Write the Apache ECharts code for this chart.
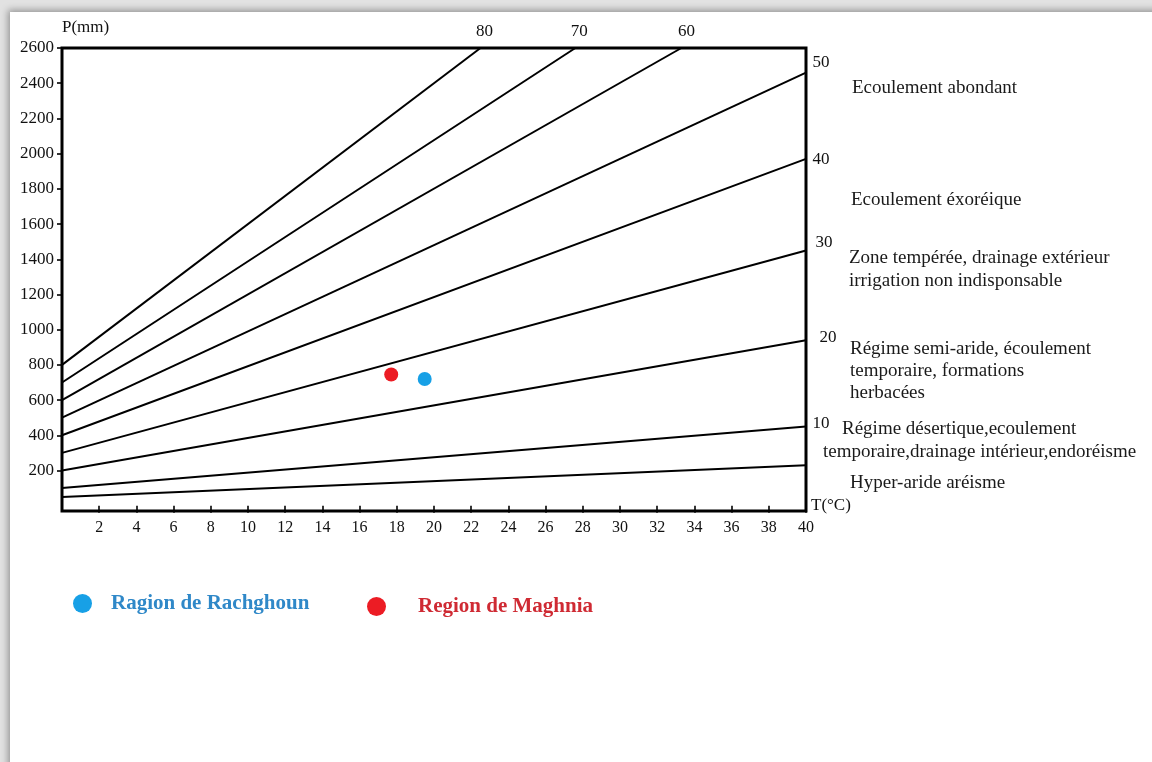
<!DOCTYPE html>
<html>
<head>
<meta charset="utf-8">
<title>Indice d'aridité de De Martonne</title>
<script src="https://cdn.jsdelivr.net/npm/echarts@6/dist/echarts.min.js"></script>
<style>
  html, body { margin: 0; padding: 0; width: 1152px; height: 762px; overflow: hidden; background: #e2e2e2; }
  #sheet { position: absolute; left: 10px; top: 12px; width: 1200px; height: 800px; background: #fff;
           box-shadow: 0 0 7px 2px rgba(0,0,0,0.35); }
  #chart { position: absolute; left: 0; top: 0; width: 1152px; height: 762px; }
</style>
</head>
<body>
<div id="sheet"></div>
<div id="chart"></div>
<script>
// Temperature axis (°C) and precipitation axis (mm)
const tempTicks = [2, 4, 6, 8, 10, 12, 14, 16, 18, 20, 22, 24, 26, 28, 30, 32, 34, 36, 38, 40];
const precipTicks = [200, 400, 600, 800, 1000, 1200, 1400, 1600, 1800, 2000, 2200, 2400, 2600];

// Iso-index lines of the aridity index I = P / (T + 10)
const indexNames = ['80', '70', '60', '50', '40', '30', '20', '10', '5'];
const lineStartP = [800, 700, 600, 500, 400, 300, 200, 100, 50];       // P at T = 0
const lineEndT   = [22.5, 27.6, 33.3, 40, 40, 40, 40, 40, 40];
const lineEndP   = [2600, 2600, 2600, 2460, 1970, 1450, 940, 450, 230];
const labelledIndex = [true, true, true, true, true, true, true, true, false];

// Stations
const stationNames = ['Ragion de Rachghoun', 'Region de Maghnia'];
const stationT = [19.5, 17.7];
const stationP = [720, 745];
const stationColors = ['#17a0e6', '#ec1c24'];
const stationTextColors = ['#2f88c8', '#cf2a33'];

// Climate zones written to the right of the chart
const zoneTexts = [
  'Ecoulement abondant',
  'Ecoulement éxoréique',
  'Zone tempérée, drainage extérieur\nirrigation non indisponsable',
  'Régime semi-aride, écoulement\ntemporaire, formations\nherbacées',
  'Régime désertique,ecoulement',
  'temporaire,drainage intérieur,endoréisme',
  'Hyper-aride aréisme'
];

const SERIF = '"Liberation Serif", "Times New Roman", serif';
const P_MIN = -30, P_MAX = 2600;

// label nudges for the index numbers: [dx, dy]
const endLabelNudge = [[4, 0], [4, 0], [5, 0], [0, -10], [0, 1], [3, -8], [7, -3], [0, -3], [0, 0]];
const zoneAnchor = [[852, 88, 22], [851, 200, 22], [849, 258, 23], [850, 349, 22], [842, 429, 22], [823, 452, 22], [850, 483, 22]];

const chart = echarts.init(document.getElementById('chart'), null, { renderer: 'canvas' });

const lineSeries = indexNames.map((name, i) => {
  const end = { value: [lineEndT[i], lineEndP[i]] };
  if (labelledIndex[i]) {
    const onTop = lineEndP[i] >= P_MAX;
    end.label = {
      show: true,
      formatter: name,
      position: onTop ? 'top' : 'right',
      distance: onTop ? 7 : 6,
      offset: endLabelNudge[i],
      color: '#111',
      fontFamily: SERIF,
      fontSize: 17
    };
  }
  return {
    type: 'line',
    name: 'I = ' + name,
    data: [{ value: [0, lineStartP[i]] }, end],
    symbol: 'circle',
    symbolSize: 1,
    showSymbol: true,
    itemStyle: { color: 'rgba(0,0,0,0)' },
    lineStyle: { color: '#000', width: 2 },
    silent: true,
    z: 2
  };
});

const stationSeries = stationNames.map((name, i) => ({
  type: 'scatter',
  name: name,
  data: [[stationT[i], stationP[i]]],
  symbol: 'circle',
  symbolSize: 14,
  itemStyle: { color: stationColors[i], opacity: 1 },
  silent: true,
  z: 5
}));

const legendLeft = [68, 362];
const legendPad = [14, 27];

const option = {
  animation: false,
  backgroundColor: 'transparent',
  textStyle: { fontFamily: SERIF },
  grid: {
    left: 62, right: 346, top: 48, bottom: 251,
    show: true, borderColor: '#000', borderWidth: 3, backgroundColor: 'transparent'
  },
  legend: stationNames.map((name, i) => ({
    data: [name],
    left: legendLeft[i],
    top: 588 + i * 3,
    icon: 'circle',
    itemWidth: 19,
    itemHeight: 19,
    selectedMode: false,
    itemStyle: { opacity: 1 },
    textStyle: {
      color: stationTextColors[i],
      fontFamily: SERIF,
      fontWeight: 'bold',
      fontSize: 21,
      padding: [0, 0, 0, legendPad[i]]
    }
  })),
  xAxis: {
    type: 'value',
    min: 0, max: 40,
    name: 'T(°C)',
    nameLocation: 'end',
    nameGap: 5,
    nameTextStyle: { color: '#111', fontFamily: SERIF, fontSize: 17, padding: [6, 0, 0, 0] },
    axisLine: { show: false },
    axisTick: { show: true, customValues: tempTicks, length: 7, lineStyle: { color: '#000', width: 1.6 } },
    axisLabel: { show: true, customValues: tempTicks, margin: 9, color: '#111', fontFamily: SERIF, fontSize: 16,
                 formatter: v => String(v) },
    splitLine: { show: false }
  },
  yAxis: {
    type: 'value',
    min: P_MIN, max: P_MAX,
    name: 'P(mm)',
    nameLocation: 'end',
    nameGap: 12,
    nameTextStyle: { color: '#111', fontFamily: SERIF, fontSize: 17, align: 'left' },
    axisLine: { show: false },
    axisTick: { show: true, customValues: precipTicks, length: 5, lineStyle: { color: '#000', width: 1.6 } },
    axisLabel: { show: true, customValues: precipTicks, margin: 8, color: '#111', fontFamily: SERIF, fontSize: 17,
                 formatter: v => String(v) },
    splitLine: { show: false }
  },
  graphic: zoneTexts.map((t, i) => ({
    type: 'text',
    left: zoneAnchor[i][0],
    top: zoneAnchor[i][1] - zoneAnchor[i][2] / 2,
    silent: true,
    style: {
      text: t,
      fill: '#1a1a1a',
      font: '19px ' + SERIF,
      lineHeight: zoneAnchor[i][2]
    }
  })),
  series: lineSeries.concat(stationSeries)
};

chart.setOption(option);
</script>
</body>
</html>
